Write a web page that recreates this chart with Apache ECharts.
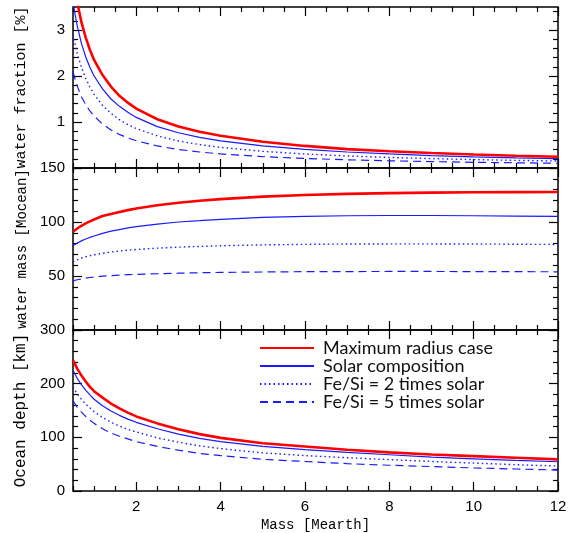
<!DOCTYPE html>
<html><head><meta charset="utf-8">
<script src="https://cdn.jsdelivr.net/npm/echarts@6/dist/echarts.min.js"></script>
<style>html,body{margin:0;padding:0;background:#fff}#c{width:583px;height:533px}</style>
</head><body><div id="c"></div>
<script>
const mass = [0.5,0.6,0.7,0.8,0.9,1.0,1.2,1.4,1.6,1.8,2.0,2.5,3,3.5,4,5,6,7,8,9,10,11,12];
const seriesNames = ['Maximum radius case','Solar composition','Fe/Si = 2 times solar','Fe/Si = 5 times solar'];

const fracMax   = [4.19,3.60,3.17,2.84,2.57,2.35,2.02,1.77,1.57,1.42,1.29,1.06,0.90,0.79,0.70,0.57,0.48,0.41,0.364,0.325,0.293,0.267,0.245];
const fracSolar = [3.59,3.09,2.71,2.42,2.19,2.00,1.72,1.50,1.34,1.21,1.10,0.90,0.767,0.665,0.589,0.479,0.404,0.348,0.305,0.271,0.243,0.221,0.202];
const fracFe2   = [2.90,2.49,2.19,1.95,1.76,1.60,1.36,1.19,1.05,0.944,0.857,0.697,0.588,0.509,0.449,0.362,0.304,0.262,0.229,0.204,0.183,0.166,0.152];
const fracFe5   = [2.09,1.78,1.55,1.38,1.24,1.13,0.955,0.826,0.730,0.654,0.592,0.479,0.403,0.348,0.306,0.247,0.207,0.178,0.156,0.139,0.124,0.113,0.103];

const waterMax   = [91,94,96.5,98.7,100.6,102.3,105.5,107.5,109.3,111,112.5,115.5,117.8,119.7,121.2,123.5,125,126,126.7,127.2,127.5,127.7,127.8];
const waterSolar = [78,80.5,82.5,84.3,85.7,87,89.5,91.5,93,94.5,95.7,98,100,101.2,102.5,104.2,105.3,105.8,106,106,105.8,105.5,105.2];
const waterFe2   = [63,65,66.5,67.8,68.8,69.7,71,72.2,73.1,73.9,74.5,75.8,76.7,77.4,78,78.8,79.3,79.6,79.7,79.7,79.6,79.4,79.2];
const waterFe5   = [45.5,46.5,47.3,48,48.6,49.1,49.8,50.3,50.8,51.2,51.5,52.1,52.6,53,53.3,53.7,54,54.1,54.2,54.2,54.1,54,53.9];

const depthMax   = [244,228,215,204,194,186,174,163,154,146,139,126,115,106,99,89,83,77,72,68,65,62,59];
const depthSolar = [225,210,198,188,179,171,159,149,141,134,128,116,106,98,92,83,77,72,67.5,63,60,57,54.5];
const depthFe2   = [194,181,171,162,155,148,137,128,121,115,110,99,91,84,79,71,66,62,58.5,55,52,49,46.5];
const depthFe5   = [168,156,147,139,132,126,116,108,102,97,92,83,76,70,66,59,55,51,48,45.5,43,41,39];

const xTickLabels = [2,4,6,8,10,12];
const fracTickLabels = [1,2,3];
const waterTickLabels = [50,100,150];
const depthTickLabels = [0,100,200,300];

const xMin = 0.5, xMax = 12;
const panels = [
  {top:7, height:161, min:0, max:3.5, labels:fracTickLabels, minorStep:0.2, majorStep:1, name:'water fraction [%]', nameSize:15,
   data:[fracMax,fracSolar,fracFe2,fracFe5]},
  {top:168, height:162, min:0, max:150, labels:waterTickLabels, minorStep:10, majorStep:50, name:'water mass [Mocean]', nameSize:14,
   data:[waterMax,waterSolar,waterFe2,waterFe5]},
  {top:330, height:161, min:0, max:300, labels:depthTickLabels, minorStep:20, majorStep:100, name:'Ocean depth [km]', nameSize:16,
   data:[depthMax,depthSolar,depthFe2,depthFe5]}
];

function range(a,b,step){const r=[];for(let i=0;a+i*step<=b+1e-9;i++){r.push(+(a+i*step).toFixed(4));}return r;}
function isMult(v,s){const q=v/s;return Math.abs(q-Math.round(q))<1e-6;}

const xMajor = range(2,12,2);
const xMinor = range(0.5,12,0.5).filter(v=>!isMult(v,2));

const styles = [
  {color:'#ff0000', width:2.6, type:'solid'},
  {color:'#1a1aff', width:1.2, type:'solid'},
  {color:'#1a1aff', width:1.4, type:[1.5,3]},
  {color:'#1a1aff', width:1.2, type:[8,5]}
];

const grid=[], xAxis=[], yAxis=[], series=[];
const tickStyle = {color:'#000', width:1.2};
const labelFont = {fontFamily:'Liberation Sans', fontSize:15, color:'#000'};
const monoFont = {fontFamily:'Liberation Mono', fontSize:14, color:'#000'};

panels.forEach((p,gi)=>{
  grid.push({left:73, right:25, top:p.top, height:p.height, show:true, borderColor:'#000', borderWidth:1.5, backgroundColor:'transparent'});
  const baseX = xAxis.length;
  ['bottom','top'].forEach(pos=>{
    [[xMajor,9],[xMinor,5]].forEach(([vals,len],k)=>{
      const ax = {type:'value', gridIndex:gi, position:pos, min:xMin, max:xMax,
        axisLine:{show:false,onZero:false}, splitLine:{show:false},
        axisTick:{show:true, inside:true, length:len, customValues:vals, lineStyle:tickStyle},
        axisLabel:{show:false}};
      if (gi===2 && pos==='bottom' && k===0) {
        ax.axisLabel = Object.assign({show:true, customValues:xTickLabels, margin:8}, labelFont);
        ax.name = 'Mass [Mearth]';
        ax.nameLocation = 'middle';
        ax.nameGap = 27;
        ax.nameTextStyle = monoFont;
      }
      xAxis.push(ax);
    });
  });
  const yMajor = range(p.min,p.max,p.majorStep);
  const yMinor = range(p.min,p.max,p.minorStep).filter(v=>!isMult(v,p.majorStep));
  const baseY = yAxis.length;
  ['left','right'].forEach(pos=>{
    [[yMajor,9],[yMinor,5]].forEach(([vals,len],k)=>{
      const ax = {type:'value', gridIndex:gi, position:pos, min:p.min, max:p.max,
        axisLine:{show:false,onZero:false}, splitLine:{show:false},
        axisTick:{show:true, inside:true, length:len, customValues:vals, lineStyle:tickStyle},
        axisLabel:{show:false}};
      if (pos==='left' && k===0) {
        ax.axisLabel = Object.assign({show:true, customValues:p.labels, margin:8}, labelFont);
        ax.name = p.name;
        ax.nameLocation = 'middle';
        ax.nameRotate = 90;
        ax.nameGap = 44;
        ax.nameTextStyle = Object.assign({}, monoFont, {fontSize:p.nameSize});
      }
      yAxis.push(ax);
    });
  });
  p.data.forEach((arr,si)=>{
    const st = styles[si];
    series.push({type:'line', name:seriesNames[si], xAxisIndex:baseX, yAxisIndex:baseY,
      data: mass.map((m,i)=>[m,arr[i]]), symbol:'none', smooth:false, clip:true,
      color: st.color, lineStyle:{color:st.color, width:st.width, type:st.type}, z: 3-si+2, silent:true});
  });
});

const chart = echarts.init(document.getElementById('c'), null, {renderer:'canvas'});
chart.setOption({
  animation:false,
  backgroundColor:'#fff',
  grid, xAxis, yAxis, series,
  legend:{data:seriesNames, orient:'vertical', left:254, top:334, itemWidth:54, itemHeight:14, itemGap:0,
    itemStyle:{color:'rgba(0,0,0,0)', borderWidth:0, opacity:0},
    textStyle:{fontFamily:'Lato', fontSize:18, color:'#111', lineHeight:18, padding:[0,0,0,4]}, selectedMode:false}
});
</script></body></html>
